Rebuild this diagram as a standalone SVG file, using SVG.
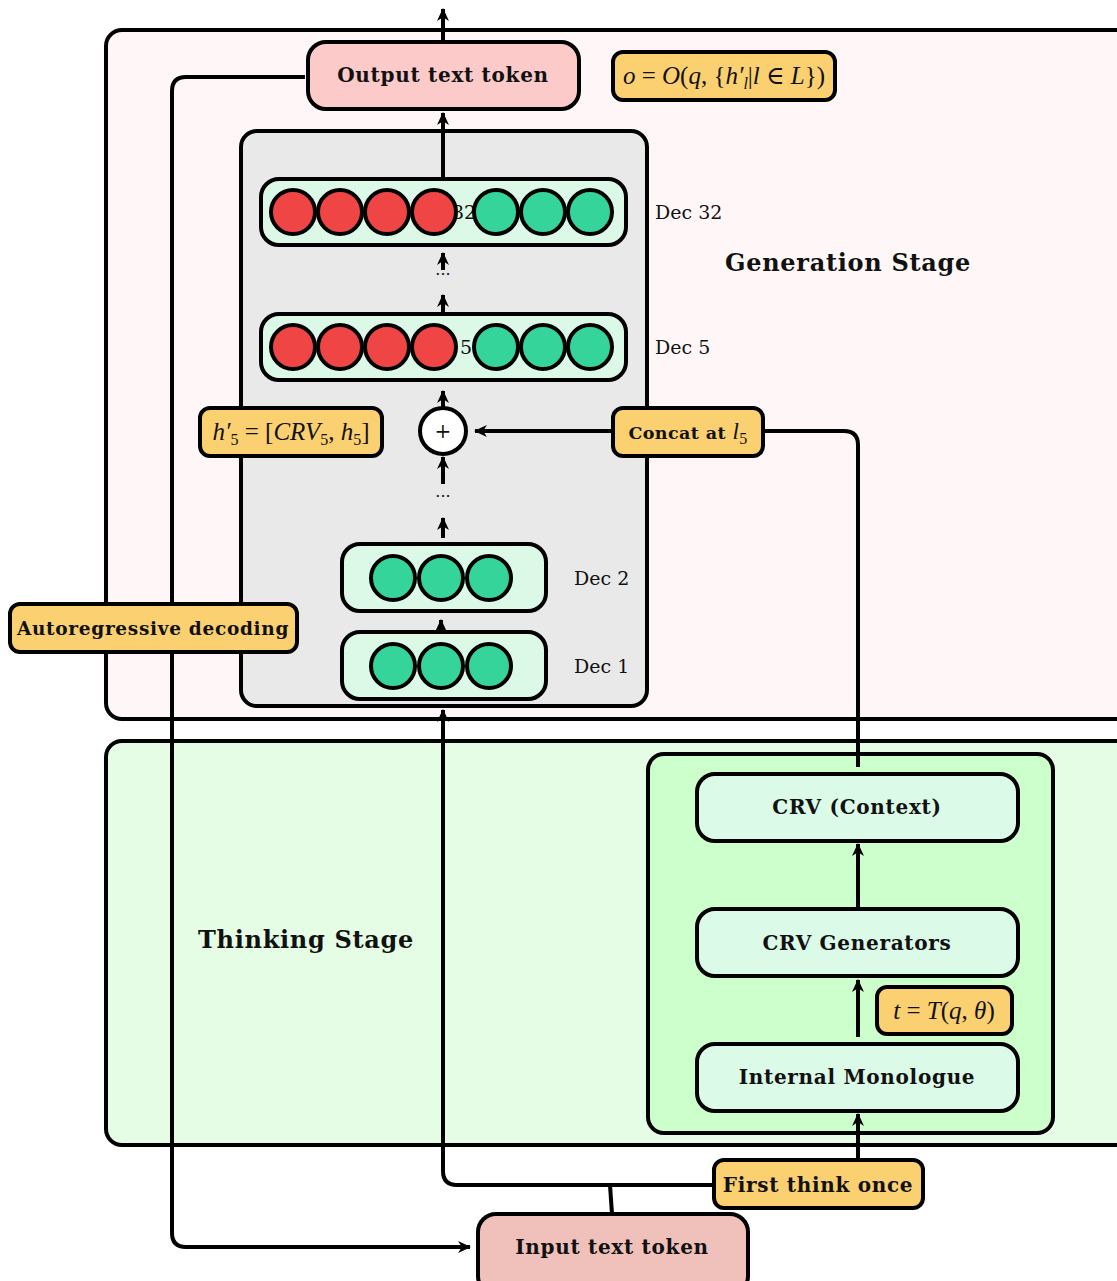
<svg xmlns="http://www.w3.org/2000/svg" width="1117" height="1281" viewBox="0 0 1117 1281">
<defs>
<marker id="ah" viewBox="0 0 12 12" refX="11" refY="6" markerWidth="13" markerHeight="13" markerUnits="userSpaceOnUse" orient="auto">
<path d="M0,0.5 L12,6 L0,11.5 L3.5,6 Z" fill="#000"/>
</marker>
<style>
.box{stroke:#000;stroke-width:4}
.lbl{fill:#fbd070;stroke:#000;stroke-width:4}
.row{fill:#dcf9e8;stroke:#000;stroke-width:4}
.red{fill:#ef4545;stroke:#000;stroke-width:4}
.grn{fill:#34d49a;stroke:#000;stroke-width:4}
.b{font-family:"DejaVu Serif","Liberation Serif",serif;font-weight:bold;fill:#111;text-anchor:middle;dominant-baseline:central;letter-spacing:0.7px}
.r{font-family:"DejaVu Serif","Liberation Serif",serif;fill:#111;dominant-baseline:central}
.m{font-family:"Liberation Serif","DejaVu Serif",serif;fill:#111;text-anchor:middle;font-size:25px}
.i{font-style:italic}
.ln{fill:none;stroke:#000;stroke-width:4}
</style>
</defs>
<rect width="1117" height="1281" fill="#fff"/>

<g id="generation-stage">
<rect class="box" x="106" y="30" width="1030" height="689" rx="16" fill="#fff7f7"/>
<text class="b" x="848" y="262" font-size="24">Generation Stage</text>
</g>
<g id="thinking-stage">
<rect class="box" x="106" y="741" width="1030" height="404" rx="16" fill="#e4fde4"/>
<text class="b" x="306" y="939" font-size="24">Thinking Stage</text>
</g>
<g id="decoder-stack">
<rect class="box" x="241" y="131" width="406" height="575" rx="16" fill="#e9e9e9"/>
</g>
<g id="thinking-module">
<rect class="box" x="648" y="754" width="405" height="379" rx="16" fill="#ccffcc"/>
</g>

<g id="connectors">
<path class="ln" d="M443,42 L443,9" marker-end="url(#ah)"/>
<path class="ln" d="M443,178 L443,113" marker-end="url(#ah)"/>
<path class="ln" stroke-width="2" d="M443,270 L443,253" marker-end="url(#ah)"/>
<path class="ln" stroke-width="2" d="M443,313 L443,295" marker-end="url(#ah)"/>
<path class="ln" stroke-width="2" d="M443,408 L443,391" marker-end="url(#ah)"/>
<path class="ln" d="M443,484 L443,457" marker-end="url(#ah)"/>
<path class="ln" stroke-width="2" d="M443,538 L443,518" marker-end="url(#ah)"/>
<path class="ln" stroke-width="2" d="M441,634 L441,620" marker-end="url(#ah)"/>
<path class="ln" d="M714,1185 L457,1185 Q443,1185 443,1171 L443,710" marker-end="url(#ah)"/>
<path class="ln" d="M612,1214 L610,1185"/>
<path class="ln" d="M858,1160 L858,1114" marker-end="url(#ah)"/>
<path class="ln" d="M858,1037 L858,980" marker-end="url(#ah)"/>
<path class="ln" d="M858,909 L858,844" marker-end="url(#ah)"/>
<path class="ln" d="M858,767 L858,445 Q858,431 844,431 L763,431"/>
<path class="ln" d="M613,431 L475,431" marker-end="url(#ah)"/>
<path class="ln" d="M305,77 L186,77 Q172,77 172,91 L172,1233 Q172,1247 186,1247 L470,1247" marker-end="url(#ah)"/>
</g>

<g id="output-token">
<rect class="box" x="308" y="42" width="271" height="67" rx="18" fill="#fdcaca"/>
<text class="b" x="443" y="75" font-size="20">Output text token</text>
</g>
<g id="output-formula">
<rect class="lbl" x="613" y="52" width="222" height="48" rx="10"/>
<text class="m" x="724" y="84"><tspan class="i">o</tspan> = <tspan class="i">O</tspan>(<tspan class="i">q</tspan>, {<tspan class="i">h′</tspan><tspan class="i" font-size="16" dy="5">l</tspan><tspan dy="-5">|</tspan><tspan class="i">l</tspan> ∈ <tspan class="i">L</tspan>})</text>
</g>

<g id="dec32">
<rect class="row" x="261" y="179" width="365" height="66" rx="18"/>
<text class="r" x="464" y="212" font-size="19" text-anchor="middle">32</text>
<circle class="red" cx="293" cy="212" r="22"/>
<circle class="red" cx="340" cy="212" r="22"/>
<circle class="red" cx="387" cy="212" r="22"/>
<circle class="red" cx="434" cy="212" r="22"/>
<circle class="grn" cx="496" cy="212" r="22"/>
<circle class="grn" cx="543" cy="212" r="22"/>
<circle class="grn" cx="590" cy="212" r="22"/>
<text class="r" x="655" y="212" font-size="19">Dec 32</text>
</g>
<text class="r" x="443" y="274" font-size="16" text-anchor="middle">···</text>

<g id="dec5">
<rect class="row" x="261" y="314" width="365" height="66" rx="18"/>
<text class="r" x="466" y="347" font-size="19" text-anchor="middle">5</text>
<circle class="red" cx="293" cy="347" r="22"/>
<circle class="red" cx="340" cy="347" r="22"/>
<circle class="red" cx="387" cy="347" r="22"/>
<circle class="red" cx="434" cy="347" r="22"/>
<circle class="grn" cx="496" cy="347" r="22"/>
<circle class="grn" cx="543" cy="347" r="22"/>
<circle class="grn" cx="590" cy="347" r="22"/>
<text class="r" x="655" y="347" font-size="19">Dec 5</text>
</g>

<g id="concat-op">
<circle cx="443" cy="431" r="23" fill="#fff" stroke="#000" stroke-width="4"/>
<text class="r" x="443" y="431" font-size="20" text-anchor="middle">+</text>
</g>
<text class="r" x="443" y="496" font-size="16" text-anchor="middle">···</text>

<g id="h5-label">
<rect class="lbl" x="200" y="408" width="182" height="48" rx="10"/>
<text class="m" x="291" y="440"><tspan class="i">h′</tspan><tspan font-size="16" dy="5">5</tspan><tspan dy="-5"> = [</tspan><tspan class="i">CRV</tspan><tspan font-size="16" dy="5">5</tspan><tspan dy="-5">, </tspan><tspan class="i">h</tspan><tspan font-size="16" dy="5">5</tspan><tspan dy="-5">]</tspan></text>
</g>
<g id="concat-label">
<rect class="lbl" x="613" y="408" width="150" height="48" rx="10"/>
<text x="688" y="439" font-family="DejaVu Serif, Liberation Serif, serif" font-size="17.5" font-weight="bold" fill="#111" text-anchor="middle" letter-spacing="0.4">Concat at <tspan font-family="Liberation Serif, serif" font-weight="normal" font-style="italic" font-size="23">l</tspan><tspan font-family="Liberation Serif, serif" font-weight="normal" font-size="16" dy="5">5</tspan></text>
</g>

<g id="dec2">
<rect class="row" x="342" y="544" width="204" height="67" rx="18"/>
<circle class="grn" cx="393" cy="578" r="22"/>
<circle class="grn" cx="441" cy="578" r="22"/>
<circle class="grn" cx="489" cy="578" r="22"/>
<text class="r" x="574" y="578" font-size="19">Dec 2</text>
</g>
<g id="dec1">
<rect class="row" x="342" y="632" width="204" height="67" rx="18"/>
<circle class="grn" cx="393" cy="666" r="22"/>
<circle class="grn" cx="441" cy="666" r="22"/>
<circle class="grn" cx="489" cy="666" r="22"/>
<text class="r" x="574" y="666" font-size="19">Dec 1</text>
</g>

<g id="autoregressive-label">
<rect class="lbl" x="10" y="604" width="287" height="48" rx="10"/>
<text class="b" x="153" y="628" font-size="18.5" letter-spacing="0.6">Autoregressive decoding</text>
</g>

<g id="crv-context">
<rect class="box" x="697" y="774" width="321" height="67" rx="18" fill="#dcfae8"/>
<text class="b" x="857" y="807" font-size="20">CRV (Context)</text>
</g>
<g id="crv-generators">
<rect class="box" x="697" y="909" width="321" height="67" rx="18" fill="#dcfae8"/>
<text class="b" x="857" y="943" font-size="20">CRV Generators</text>
</g>
<g id="t-label">
<rect class="lbl" x="877" y="987" width="135" height="47" rx="10"/>
<text class="m" x="944" y="1019"><tspan class="i">t</tspan> = <tspan class="i">T</tspan>(<tspan class="i">q</tspan>, <tspan class="i">θ</tspan>)</text>
</g>
<g id="internal-monologue">
<rect class="box" x="697" y="1044" width="321" height="67" rx="18" fill="#dcfae8"/>
<text class="b" x="857" y="1077" font-size="20">Internal Monologue</text>
</g>

<g id="first-think-label">
<rect class="lbl" x="714" y="1160" width="209" height="48" rx="10"/>
<text class="b" x="818" y="1185" font-size="20">First think once</text>
</g>
<g id="input-token">
<rect class="box" x="478" y="1214" width="270" height="80" rx="18" fill="#f0c0bb"/>
<text class="b" x="612" y="1247" font-size="20">Input text token</text>
</g>
</svg>
